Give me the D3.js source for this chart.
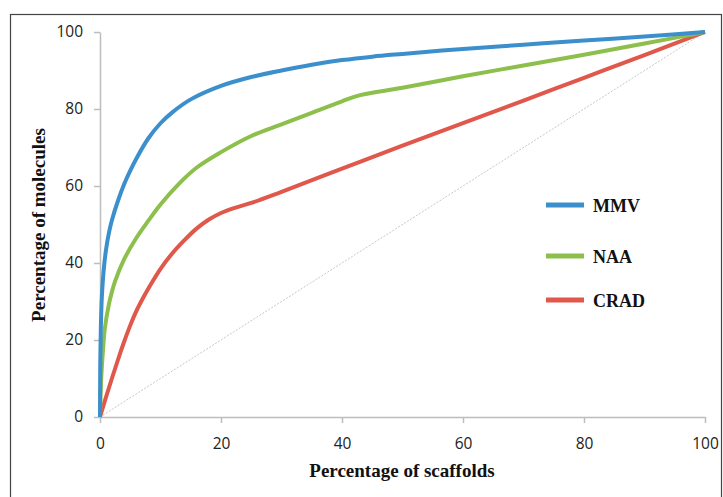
<!DOCTYPE html>
<html><head><meta charset="utf-8">
<script src="https://cdn.jsdelivr.net/npm/d3@7"></script>
<style>body{margin:0;background:#fff}svg{display:block}</style>
</head><body>
<svg id="c" width="723" height="497"></svg>
<script>
const xTicks = [0, 20, 40, 60, 80, 100];
const yTicks = [0, 20, 40, 60, 80, 100];
const seriesNames = ["MMV", "NAA", "CRAD"];
const mmv = [[0,0],[0.05,15],[0.15,24],[0.3,31],[0.6,38],[1,43.5],[1.5,48],[2,51.3],[3,56.3],[4,60.5],[5,64],[6,67.1],[8,72.4],[10,76.3],[12,79.2],[15,82.5],[20,86],[25,88.3],[30,90],[35,91.5],[40,92.7],[45,93.6],[50,94.3],[60,95.6],[70,96.7],[80,97.8],[90,98.8],[100,100]];
const naa = [[0,0],[0.2,10],[0.5,17.5],[0.8,23],[1.5,29.5],[2,32.7],[2.5,35.3],[4,41],[6,46.5],[8,51],[10,55.2],[13,60.5],[16,64.8],[20,68.8],[25,73],[30,76],[35,79],[40,82],[43,83.6],[50,85.5],[60,88.5],[70,91.3],[80,94.1],[90,97],[100,100]];
const crad = [[0,0],[1,5.2],[2,10.2],[3,15],[4,19.6],[5,23.8],[6,27.5],[7,30.6],[8,33.4],[10,38.5],[12,42.6],[14,46],[16,49],[18,51.3],[20,53],[22,54.2],[25,55.6],[30,58.5],[40,64.5],[50,70.5],[60,76.3],[70,82.2],[80,88.1],[90,94],[100,100]];
const diagonal = [[0,0],[100,100]];

const colors = {MMV:"#3b8fcc", NAA:"#8dbf4c", CRAD:"#e0574c"};
const svg = d3.select("#c");
svg.append("rect").attr("x",10.5).attr("y",14.5).attr("width",711).attr("height",500)
  .attr("fill","none").attr("stroke","#444").attr("stroke-width",1.2);

const x = d3.scaleLinear().domain([0,100]).range([100,705]);
const y = d3.scaleLinear().domain([0,100]).range([417,32]);

const xa = svg.append("g").attr("transform","translate(0,417)")
  .call(d3.axisBottom(x).tickValues(xTicks).tickSize(6).tickPadding(15).tickSizeOuter(0));
const ya = svg.append("g").attr("transform","translate(100,0)")
  .call(d3.axisLeft(y).tickValues(yTicks).tickSize(6).tickPadding(11).tickSizeOuter(0));
[xa,ya].forEach(a=>{
  a.selectAll("path,line").attr("stroke","#bdbdbd").attr("stroke-width",1.5);
  a.selectAll("text").attr("font-family","'Open Sans', sans-serif").attr("font-size",15.5).attr("fill","#222");
});
ya.select(".domain").attr("d","M0.5,417V32.5");

const line = d3.line().x(d=>x(d[0])).y(d=>y(d[1])).curve(d3.curveCatmullRom.alpha(0.5));
svg.append("path").attr("d",line(diagonal)).attr("fill","none")
  .attr("stroke","#c8c8c8").attr("stroke-width",1).attr("stroke-dasharray","2,1.5");
const data = {MMV:mmv, NAA:naa, CRAD:crad};
["CRAD","NAA","MMV"].forEach(n=>{
  svg.append("path").attr("d",line(data[n])).attr("fill","none")
    .attr("stroke",colors[n]).attr("stroke-width",4).attr("stroke-linejoin","round");
});

const ly = [205, 256, 300];
seriesNames.forEach((n,i)=>{
  svg.append("line").attr("x1",546).attr("x2",584).attr("y1",ly[i]).attr("y2",ly[i])
    .attr("stroke",colors[n]).attr("stroke-width",5);
  svg.append("text").attr("x",593).attr("y",ly[i]+7).text(n)
    .attr("font-family","'Liberation Serif', serif").attr("font-weight","bold")
    .attr("font-size",18).attr("fill","#111");
});

svg.append("text").attr("x",402).attr("y",477).attr("text-anchor","middle")
  .text("Percentage of scaffolds").attr("font-family","'Liberation Serif', serif")
  .attr("font-weight","bold").attr("font-size",19).attr("fill","#111");
svg.append("text").attr("transform","translate(45,225) rotate(-90)").attr("text-anchor","middle")
  .text("Percentage of molecules").attr("font-family","'Liberation Serif', serif")
  .attr("font-weight","bold").attr("font-size",19).attr("fill","#111");
</script>
</body></html>
